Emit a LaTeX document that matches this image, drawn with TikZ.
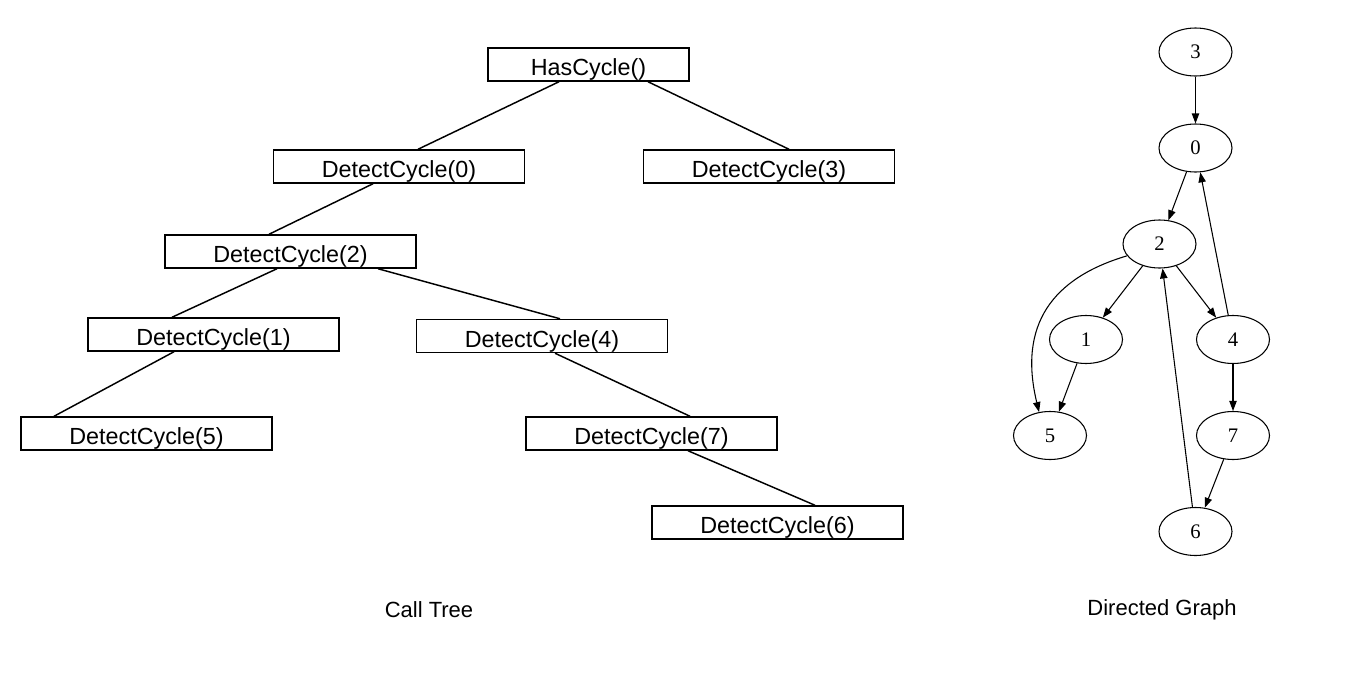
\documentclass[tikz,border=0pt]{standalone}
\usepackage{fontspec}
\setmainfont{Liberation Sans}
\newfontfamily\graphfont{Liberation Serif}
\usetikzlibrary{shapes.geometric,arrows.meta}

\tikzset{
  callbox/.style={draw, line width=1.1pt, minimum width=188.25pt, minimum height=24.75pt,
    inner sep=0pt, text height=17pt, text depth=0pt, font=\fontsize{17.5}{19}\selectfont},
  callline/.style={line width=1.1pt},
  vertex/.style={draw, ellipse, line width=0.8pt, minimum width=54.75pt, minimum height=36pt,
    inner sep=0pt, font=\graphfont\fontsize{15.5}{17}\selectfont},
  edge/.style={line width=0.8pt, -{Triangle[length=7.5pt, width=5.5pt]}},
  caption/.style={font=\fontsize{16.5}{18}\selectfont}
}

\begin{document}
\begin{tikzpicture}[x=0.75pt, y=-0.75pt]
  \useasboundingbox (0,0) rectangle (1356,682);

  % Call tree boxes
  \node[callbox, minimum width=150.75pt] (root) at (588.5,64.5) {HasCycle()};
  \node[callbox] (dc0) at (399,166.5) {DetectCycle(0)};
  \node[callbox] (dc3) at (769,166.5) {DetectCycle(3)};
  \node[callbox] (dc2) at (290.5,251.5) {DetectCycle(2)};
  \node[callbox] (dc1) at (213.5,334.5) {DetectCycle(1)};
  \node[callbox] (dc4) at (542,336) {DetectCycle(4)};
  \node[callbox] (dc5) at (146.5,433.5) {DetectCycle(5)};
  \node[callbox] (dc7) at (651.5,433.5) {DetectCycle(7)};
  \node[callbox] (dc6) at (777.5,522.5) {DetectCycle(6)};

  % Call tree lines
  \draw[callline] ([shift={(-29.5,0)}]root.south) -- ([shift={(19,0)}]dc0.north);
  \draw[callline] ([shift={(59.5,0)}]root.south) -- ([shift={(20,0)}]dc3.north);
  \draw[callline] ([shift={(-26,0)}]dc0.south) -- ([shift={(-21.5,0)}]dc2.north);
  \draw[callline] ([shift={(-13.5,0)}]dc2.south) -- ([shift={(-41.5,0)}]dc1.north);
  \draw[callline] ([shift={(87.5,0)}]dc2.south) -- ([shift={(18,0)}]dc4.north);
  \draw[callline] ([shift={(-39.5,0)}]dc1.south) -- ([shift={(-92.5,0)}]dc5.north);
  \draw[callline] ([shift={(13,0)}]dc4.south) -- ([shift={(38.5,0)}]dc7.north);
  \draw[callline] ([shift={(36.5,0)}]dc7.south) -- ([shift={(37.5,0)}]dc6.north);

  % Directed graph vertices
  \node[vertex] (v3) at (1195.5,52) {3};
  \node[vertex] (v0) at (1195.5,148) {0};
  \node[vertex] (v2) at (1159.5,244) {2};
  \node[vertex] (v1) at (1086,339.5) {1};
  \node[vertex] (v4) at (1233,339.5) {4};
  \node[vertex] (v5) at (1050,435.5) {5};
  \node[vertex] (v7) at (1233,435.5) {7};
  \node[vertex] (v6) at (1195.5,531.5) {6};

  % Directed graph edges
  \draw[edge] (v3) -- (v0);
  \draw[edge] (v0) -- (v2);
  \draw[edge] (v2) -- (v1);
  \draw[edge] (v2) -- (v4);
  \draw[edge] (v2.200) .. controls (1052,278) and (1018,325) .. (v5.115);
  \draw[edge] (v1) -- (v5);
  \draw[edge] (v4) -- (v0);
  \draw[edge] (v4) -- (v7);
  \draw[edge] (v7) -- (v6);
  \draw[edge] (v6) -- (v2);

  % Captions
  \node[caption] (treecap) at (429,610) {Call Tree};
  \node[caption] (graphcap) at (1162,610) {Directed Graph};
\end{tikzpicture}
\end{document}
